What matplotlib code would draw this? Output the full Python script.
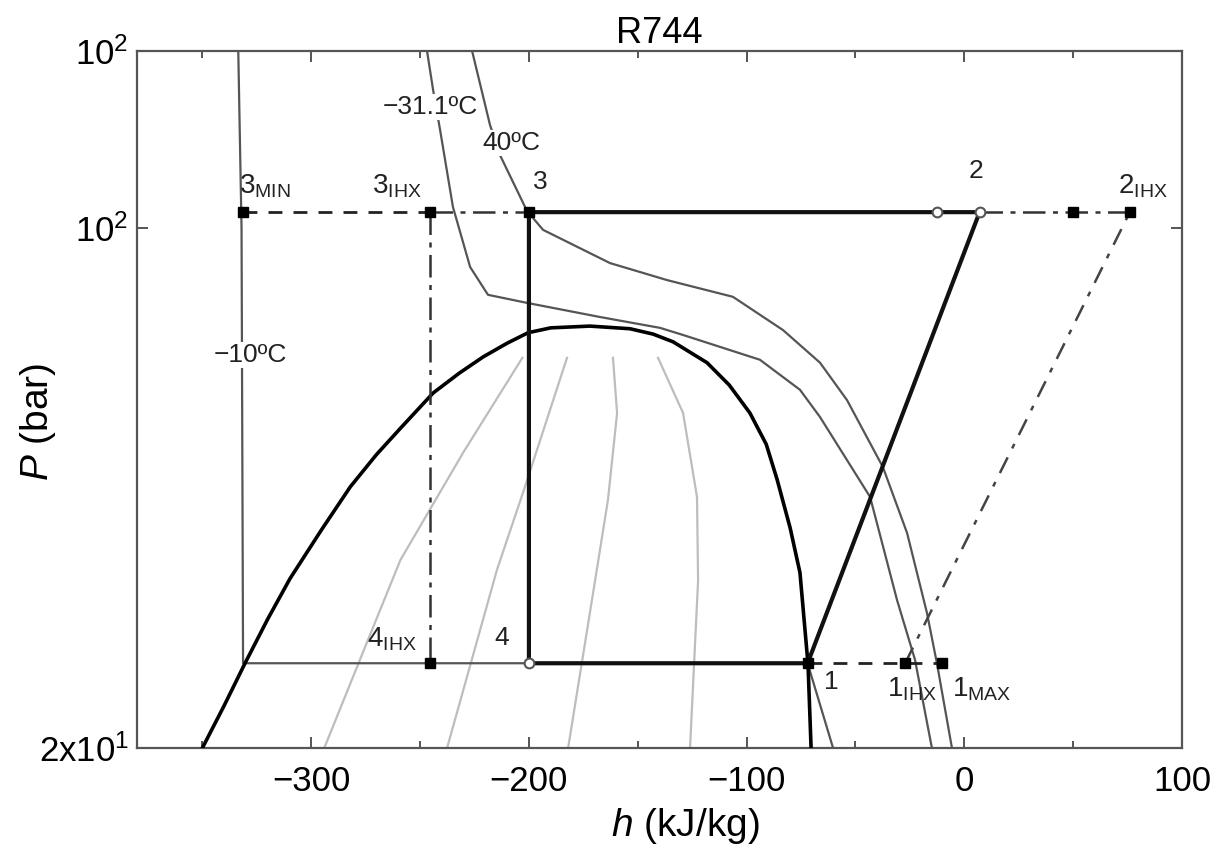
import numpy as np
import matplotlib
matplotlib.use("Agg")
import matplotlib.pyplot as plt

plt.rcParams['font.family'] = ['Liberation Sans', 'DejaVu Sans']
plt.rcParams['mathtext.fontset'] = 'custom'
plt.rcParams['mathtext.rm'] = 'Liberation Sans'
plt.rcParams['mathtext.it'] = 'Liberation Sans:italic'

# saturation dome (h in kJ/kg, P in bar)
dome_h = [-350, -340, -330.4, -320, -309.7, -295, -282, -270, -259, -244, -232, -221,
          -210, -200.4, -190, -172, -153.6, -143, -133.8, -118.2, -108, -98.5,
          -91, -86, -80, -75.5, -71.8, -70.4]
dome_P = [20, 22.8, 26.0, 29.8, 33.8, 39.4, 44.9, 49.6, 53.8, 60.0, 63.8, 67.1,
          70.0, 72.3, 73.4, 73.8, 73.2, 72.0, 70.3, 65.9, 61.5, 56.4,
          51.2, 45.9, 39.5, 34.4, 25.9, 20]

# constant quality lines inside the dome
qual_h = [[-203, -230, -259, -276, -294],
          [-182.5, -201.8, -214.7, -237.6],
          [-161.4, -159.5, -163.7, -169.6, -182],
          [-140.7, -129.2, -122.8, -122.3, -126]]
qual_P = [[66.9, 50, 35.8, 27, 20],
          [66.9, 44.9, 34.7, 20],
          [66.9, 56.4, 43.1, 33.6, 20],
          [66.9, 56.4, 43.5, 33.6, 20]]

# isotherms
t_crit_h = [-246.8, -244.0, -240.8, -234.9, -227.0, -218.8, -200.9, -167.3, -139.8,
            -129.2, -93.9, -75.5, -66.3, -43.3, -30.9, -22.7, -14.9]
t_crit_P = [172.9, 153.2, 135.4, 106.7, 88.6, 81.3, 79.3, 75.9, 73.4,
            71.8, 66.5, 60.6, 55.7, 43.5, 31.6, 26.3, 20]
t40_h = [-226.1, -217.9, -213.3, -200.9, -193.5, -162.8, -136.6, -106.3, -83.3,
         -66.3, -53.9, -37.4, -26.3, -17.2, -12.6, -5.7]
t40_P = [172.9, 137.6, 125.3, 105.4, 99.4, 89.7, 85.1, 80.8, 72.9,
         65.9, 58.7, 47.7, 38.9, 30.4, 26.0, 20]
tm10_h = [-333.5, -332, -331.3, -72, -60.3]
tm10_P = [172.9, 100, 26, 26, 20]

# cycle states
P_low = 26
P_high = 105
h_3min, h_3ihx, h_3, h_2a, h_2, h_2b, h_2ihx = -331.3, -245.4, -200, -12.5, 7, 50, 76
h_4ihx, h_4, h_1, h_1ihx, h_1max = -245.4, -200, -72, -27.2, -10.2

fig = plt.figure(figsize=(12.17, 8.51), dpi=100)
ax = fig.add_axes([0.1126, 0.121, 0.8587, 0.8191])

gray = '#555555'
light = '#bdbdbd'

for hq, pq in zip(qual_h, qual_P):
    ax.plot(hq, pq, color=light, lw=1.6, zorder=1)

ax.plot(t_crit_h, t_crit_P, color=gray, lw=1.6, zorder=2)
ax.plot(t40_h, t40_P, color=gray, lw=1.6, zorder=2)
ax.plot(tm10_h, tm10_P, color=gray, lw=1.6, zorder=2)

ax.plot(dome_h, dome_P, color='black', lw=2.6, zorder=3)

# main cycle
ax.plot([h_4, h_1, h_2, h_3, h_4], [P_low, P_low, P_high, P_high, P_low],
        color='#111111', lw=3, zorder=4)

# IHX variants
ax.plot([h_1, h_1max], [P_low, P_low], color='#222222', lw=2, ls=(0, (5, 4)), zorder=4)
ax.plot([h_3min, h_3ihx], [P_high, P_high], color='#222222', lw=2, ls=(0, (5, 4)), zorder=4)
ax.plot([h_3ihx, h_3], [P_high, P_high], color='#333333', lw=1.8, ls=(0, (9, 3, 2, 3)), zorder=4)
ax.plot([h_2, h_2ihx], [P_high, P_high], color='#333333', lw=1.8, ls=(0, (9, 3, 2, 3)), zorder=4)
ax.plot([h_3ihx, h_4ihx], [P_high, P_low], color='#333333', lw=1.8, ls=(0, (9, 3, 2, 3)), zorder=4)
ax.plot([h_1ihx, h_2ihx], [P_low, P_high], color='#444444', lw=1.8, ls=(0, (7, 4, 2, 4)), zorder=4)

# state points
ax.plot([h_3min, h_3ihx, h_3, h_2b, h_2ihx], [P_high] * 5, 's', color='black', ms=7, zorder=6)
ax.plot([h_4ihx, h_1, h_1ihx, h_1max], [P_low] * 4, 's', color='black', ms=7, zorder=6)
ax.plot([h_2a, h_2], [P_high, P_high], 'o', mfc='white', mec=gray, mew=1.5, ms=7, zorder=6)
ax.plot([h_4], [P_low], 'o', mfc='white', mec=gray, mew=1.5, ms=7, zorder=6)

fs = 20
fs2 = 19
tc = '#222222'
box = dict(facecolor='white', edgecolor='none', pad=1)
ax.text(-333, 109, r'3$_{\mathrm{MIN}}$', fontsize=fs, ha='left', va='bottom', color=tc)
ax.text(-272, 109, r'3$_{\mathrm{IHX}}$', fontsize=fs, ha='left', va='bottom', color=tc)
ax.text(-198, 111, '3', fontsize=fs2, ha='left', va='bottom', color=tc)
ax.text(5.4, 115, '2', fontsize=fs2, ha='center', va='bottom', color=tc)
ax.text(70.6, 109, r'2$_{\mathrm{IHX}}$', fontsize=fs, ha='left', va='bottom', color=tc)
ax.text(-267, 145.4, '\u221231.1ºC', fontsize=fs2, ha='left', va='center', color=tc, bbox=box, zorder=3)
ax.text(-221.5, 130, '40ºC', fontsize=fs2, ha='left', va='center', color=tc, bbox=box, zorder=3)
ax.text(-345, 67.5, '\u221210ºC', fontsize=fs2, ha='left', va='center', color=tc, bbox=box, zorder=3)
ax.text(-274.4, 26.8, r'4$_{\mathrm{IHX}}$', fontsize=fs, ha='left', va='bottom', color=tc)
ax.text(-212.4, 28.1, '4', fontsize=fs2, ha='center', va='center', color=tc)
ax.text(-61.3, 24.5, '1', fontsize=fs2, ha='center', va='center', color=tc)
ax.text(-35.5, 25.0, r'1$_{\mathrm{IHX}}$', fontsize=fs, ha='left', va='top', color=tc)
ax.text(-5.7, 25.0, r'1$_{\mathrm{MAX}}$', fontsize=fs, ha='left', va='top', color=tc)

ax.set_yscale('log')
ax.set_xlim(-380, 100)
ax.set_ylim(20, 172.9)
ax.set_xticks([-300, -200, -100, 0, 100])
ax.set_xticklabels(['\u2212300', '\u2212200', '\u2212100', '0', '100'])
ax.set_xticks(np.arange(-350, 100, 50), minor=True)
ax.set_yticks([20, 100, 172.9])
ax.set_yticklabels([r'2x10$^{1}$', r'10$^{2}$', r'10$^{2}$'])
ax.yaxis.set_minor_locator(matplotlib.ticker.NullLocator())
ax.tick_params(which='both', direction='in', top=True, right=True, labelsize=25,
               color=gray, width=1.4)
ax.tick_params(axis='x', which='both', pad=12)
ax.tick_params(axis='y', which='both', pad=6)
ax.tick_params(which='major', length=8)
ax.tick_params(which='minor', length=5)
for s in ax.spines.values():
    s.set_color(gray)
    s.set_linewidth(1.6)

ax.set_xlabel(r'$h$ (kJ/kg)', fontsize=28)
ax.xaxis.set_label_coords(0.525, -0.083)
ax.set_ylabel(r'$P$ (bar)', fontsize=28)
ax.yaxis.set_label_coords(-0.076, 0.468)
ax.set_title('R744', fontsize=26, pad=6)

fig.savefig('out.png', dpi=100)
